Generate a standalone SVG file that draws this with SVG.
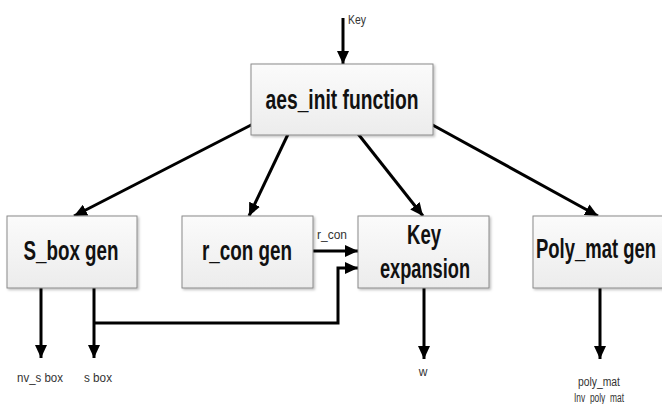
<svg xmlns="http://www.w3.org/2000/svg" width="662" height="404" viewBox="0 0 662 404">
  <defs>
    <linearGradient id="boxFill" x1="0" y1="0" x2="0" y2="1">
      <stop offset="0" stop-color="#fbfbfb"/>
      <stop offset="1" stop-color="#ececec"/>
    </linearGradient>
    <filter id="shadow" x="-5%" y="-5%" width="115%" height="120%">
      <feDropShadow dx="1.5" dy="1.5" stdDeviation="1" flood-color="#000" flood-opacity="0.25"/>
    </filter>
    <marker id="arrow" markerUnits="userSpaceOnUse" markerWidth="14" markerHeight="12" refX="13" refY="6" orient="auto">
      <path d="M0,0 L13,6 L0,12 z" fill="#000"/>
    </marker>
  </defs>
  <style>
    .box { fill: url(#boxFill); stroke: #8a8a8a; stroke-width: 1; filter: url(#shadow); }
    .title { font-family: "Liberation Sans", Arial, sans-serif; font-weight: bold; font-size: 27px; fill: #111; text-anchor: middle; }
    .small { font-family: "Liberation Sans", Arial, sans-serif; font-size: 12px; fill: #333; text-anchor: middle; }
    .wire { fill: none; stroke: #000; stroke-width: 3; }
    .arr { marker-end: url(#arrow); }
  </style>

  <!-- connectors -->
  <g id="connectors">
    <line class="wire arr" x1="343" y1="18" x2="343" y2="64" stroke-width="2.5"/>
    <line class="wire arr" x1="255" y1="123" x2="74" y2="216"/>
    <line class="wire arr" x1="290" y1="130" x2="249" y2="216"/>
    <line class="wire arr" x1="355" y1="130" x2="423" y2="216"/>
    <line class="wire arr" x1="429" y1="123" x2="598" y2="216"/>
    <line class="wire arr" x1="313" y1="251" x2="358" y2="251"/>
    <polyline class="wire arr" points="94,323 338,323 338,268 358,268"/>
    <line class="wire arr" x1="41" y1="288" x2="41" y2="358"/>
    <line class="wire arr" x1="94" y1="288" x2="94" y2="358"/>
    <line class="wire arr" x1="424" y1="288" x2="424" y2="359"/>
    <line class="wire arr" x1="600" y1="288" x2="600" y2="359"/>
    <text class="small" x="357" y="24" textLength="18" lengthAdjust="spacingAndGlyphs">Key</text>
    <text class="small" x="332" y="239" textLength="30" lengthAdjust="spacingAndGlyphs">r_con</text>
  </g>

  <g id="aes_init">
    <rect class="box" x="251" y="64" width="182" height="71"/>
    <text class="title" x="342" y="109" font-size="25" textLength="153" lengthAdjust="spacingAndGlyphs">aes_init function</text>
  </g>

  <g id="s_box_gen">
    <rect class="box" x="7" y="216" width="130" height="72"/>
    <text class="title" x="71" y="260" textLength="95" lengthAdjust="spacingAndGlyphs">S_box gen</text>
  </g>

  <g id="r_con_gen">
    <rect class="box" x="182" y="216" width="131" height="72"/>
    <text class="title" x="247" y="260" textLength="90" lengthAdjust="spacingAndGlyphs">r_con gen</text>
  </g>

  <g id="key_expansion">
    <rect class="box" x="358" y="216" width="131" height="72"/>
    <text class="title" x="424" y="244" textLength="34" lengthAdjust="spacingAndGlyphs">Key</text>
    <text class="title" x="425" y="278" textLength="90" lengthAdjust="spacingAndGlyphs">expansion</text>
  </g>

  <g id="poly_mat_gen">
    <rect class="box" x="533" y="216" width="134" height="72"/>
    <text class="title" x="596" y="258" textLength="120" lengthAdjust="spacingAndGlyphs">Poly_mat gen</text>
  </g>

  <!-- output labels -->
  <g id="outputs">
    <text class="small" x="40" y="382" textLength="46" lengthAdjust="spacingAndGlyphs">nv_s box</text>
    <text class="small" x="98" y="382" textLength="28" lengthAdjust="spacingAndGlyphs">s box</text>
    <text class="small" x="423" y="376">w</text>
    <text class="small" x="599" y="386" textLength="42" lengthAdjust="spacingAndGlyphs">poly_mat</text>
    <text class="small" x="599" y="402" textLength="50" lengthAdjust="spacingAndGlyphs">Inv_poly_mat</text>
  </g>
</svg>
